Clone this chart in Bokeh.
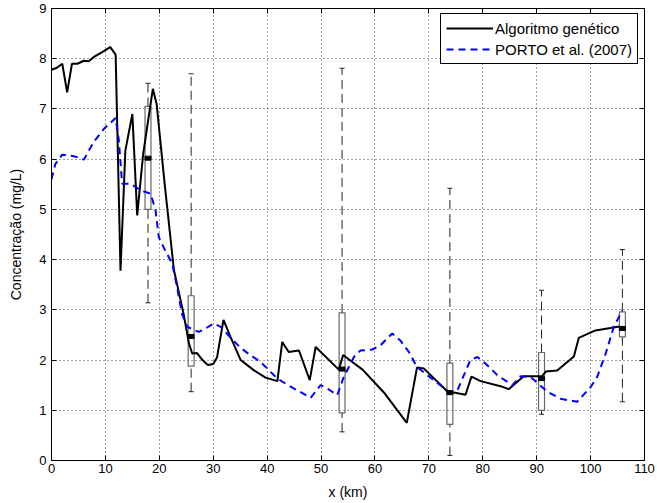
from bokeh.plotting import figure
from bokeh.models import LinearAxis, FixedTicker, Legend, LegendItem
from bokeh.embed import file_html
from bokeh.resources import INLINE

# ---- data ----
x_ticks = [0, 10, 20, 30, 40, 50, 60, 70, 80, 90, 100, 110]
y_ticks = [0, 1, 2, 3, 4, 5, 6, 7, 8, 9]

ag_x = [0, 1.0, 2.0, 2.9, 3.8, 4.8, 6.0, 6.9, 7.8, 9.4, 10.9, 11.9, 12.8, 13.7, 15.0,
        15.9, 17.0, 18.8, 19.5, 21.0, 22.7, 24.5, 25.5, 26.1, 27.0, 28.0, 29.0, 30.0,
        30.7, 31.9, 33.2, 35.1, 37.5, 39.7, 41.9, 42.8, 44.0, 45.9, 47.9, 49.0, 53.3,
        54.1, 55.3, 57.7, 61.7, 65.9, 67.8, 69.1, 73.4, 76.8, 77.9, 79.6, 83.3, 84.8,
        87.6, 91.0, 91.7, 93.8, 96.9, 97.8, 100.9, 103.7, 105.3, 106.0]
ag_y = [7.78, 7.82, 7.90, 7.33, 7.90, 7.90, 7.96, 7.95, 8.03, 8.13, 8.23, 8.08, 3.78, 6.17, 6.90,
        4.88, 6.10, 7.40, 7.10, 5.50, 3.80, 2.92, 2.33, 2.13, 2.14, 2.00, 1.90, 1.92,
        2.05, 2.80, 2.46, 2.00, 1.80, 1.65, 1.58, 2.36, 2.16, 2.19, 1.60, 2.26, 1.81,
        2.10, 2.00, 1.81, 1.35, 0.75, 1.85, 1.83, 1.38, 1.31, 1.67, 1.58, 1.48, 1.42,
        1.68, 1.68, 1.77, 1.79, 2.07, 2.44, 2.59, 2.64, 2.67, 2.60]

po_x = [0, 0.7, 2.0, 3.5, 4.5, 6.0, 7.8, 9.7, 11.9, 12.5, 13.1, 14.7, 16.5, 18.4, 19.3,
        19.9, 21.1, 22.4, 23.3, 24.2, 25.2, 27.3, 28.6, 30.1, 31.4, 33.2, 35.0, 36.6,
        38.8, 41.9, 45.0, 48.1, 49.9, 50.8, 53.0, 54.2, 56.1, 57.3, 59.5, 61.0, 63.2,
        64.7, 66.3, 67.8, 70.9, 73.7, 75.3, 77.7, 79.0, 80.5, 82.7, 85.5, 87.0, 88.9,
        92.0, 94.4, 97.5, 100.0, 101.2, 102.8, 104.3, 105.9]
po_y = [5.60, 5.90, 6.09, 6.07, 6.05, 5.99, 6.34, 6.60, 6.82, 6.37, 5.51, 5.51, 5.38, 5.31, 4.98,
        4.45, 4.18, 3.92, 3.45, 2.92, 2.66, 2.56, 2.63, 2.73, 2.66, 2.45, 2.25, 2.12,
        1.96, 1.63, 1.43, 1.25, 1.50, 1.46, 1.30, 1.66, 2.06, 2.19, 2.21, 2.29, 2.53,
        2.39, 2.16, 1.86, 1.60, 1.37, 1.40, 2.00, 2.06, 1.93, 1.70, 1.50, 1.68, 1.66,
        1.37, 1.23, 1.17, 1.46, 1.66, 2.13, 2.66, 2.99]

box_x = [17.9, 25.9, 53.9, 73.9, 90.9, 105.9]
box_q1 = [5.00, 1.88, 0.95, 0.72, 1.00, 2.46]
box_q3 = [7.05, 3.28, 2.94, 1.94, 2.15, 2.96]
box_med = [6.02, 2.47, 1.82, 1.35, 1.63, 2.63]
box_lo = [3.14, 1.37, 0.57, 0.10, 0.92, 1.17]
box_hi = [7.51, 7.70, 7.81, 5.42, 3.39, 4.20]

FONT = "Liberation Sans"

p = figure(width=657, height=503, x_range=(0, 110), y_range=(0, 9),
           output_backend="svg", toolbar_location=None,
           min_border_left=51, min_border_right=13, min_border_top=8, min_border_bottom=43)
p.background_fill_color = "white"
p.border_fill_color = "white"
p.outline_line_color = "black"
p.outline_line_alpha = 1.0

for ax, ticks in ((p.xaxis[0], x_ticks), (p.yaxis[0], y_ticks)):
    ax.ticker = FixedTicker(ticks=ticks)
    ax.major_tick_in = 5
    ax.major_tick_out = 0
    ax.minor_tick_line_color = None
    ax.axis_line_color = "black"
    ax.major_tick_line_color = "black"
    ax.major_label_text_font = FONT
    ax.major_label_text_font_size = "13px"
    ax.major_label_text_color = "black"
    ax.axis_label_text_font = FONT
    ax.axis_label_text_font_size = "14px"
    ax.axis_label_text_font_style = "normal"
    ax.axis_label_text_color = "black"

p.xaxis.axis_label = "x (km)"
p.yaxis.axis_label = "Concentração (mg/L)"
p.xaxis.major_label_standoff = 3
p.xaxis.axis_label_standoff = 8
p.yaxis.major_label_standoff = 5
p.yaxis.axis_label_standoff = 12

for loc, ticks in (("right", y_ticks), ("above", x_ticks)):
    a = LinearAxis(ticker=FixedTicker(ticks=ticks), major_tick_in=5, major_tick_out=0,
                   minor_tick_line_color=None, major_label_standoff=0,
                   major_label_overrides={t: "" for t in ticks},
                   major_label_text_font_size="1px", axis_line_color="black")
    p.add_layout(a, loc)

p.xgrid.ticker = FixedTicker(ticks=x_ticks)
p.ygrid.ticker = FixedTicker(ticks=y_ticks)
for g in (p.xgrid[0], p.ygrid[0]):
    g.grid_line_color = "black"
    g.grid_line_dash = "1 3"
    g.grid_line_alpha = 0.75
    g.grid_line_width = 1

# boxplots
p.segment(x0=box_x, y0=box_q3, x1=box_x, y1=box_hi, line_color="#222222",
          line_width=1, line_dash="9 5")
p.segment(x0=box_x, y0=box_lo, x1=box_x, y1=box_q1, line_color="#222222",
          line_width=1, line_dash="9 5")
p.dash(x=box_x, y=box_hi, size=5, line_color="#222222", line_width=1)
p.dash(x=box_x, y=box_lo, size=5, line_color="#222222", line_width=1)
p.vbar(x=box_x, width=1.1, bottom=box_q1, top=box_q3, fill_color=None,
       line_color="#666666", line_width=1.2)

# lines
r_ag = p.line(ag_x, ag_y, line_color="black", line_width=2)
r_po = p.line(po_x, po_y, line_color="#0000FF", line_width=2, line_dash="7 5")

p.rect(x=box_x, y=box_med, width=1.1, height=4, height_units="screen",
       fill_color="black", line_color="black")

legend = Legend(items=[LegendItem(label="Algoritmo genético", renderers=[r_ag]),
                       LegendItem(label="PORTO et al. (2007)", renderers=[r_po])],
                location=(389, 396))
legend.label_text_font = FONT
legend.label_text_font_size = "15px"
legend.label_text_color = "black"
legend.border_line_color = "black"
legend.border_line_width = 1
legend.border_line_alpha = 1
legend.background_fill_color = "white"
legend.background_fill_alpha = 1
legend.glyph_width = 47
legend.glyph_height = 18
legend.label_height = 18
legend.label_standoff = 2
legend.spacing = 3
legend.padding = 5
legend.margin = 0
p.add_layout(legend)

open("out.html", "w").write(file_html(p, INLINE))
